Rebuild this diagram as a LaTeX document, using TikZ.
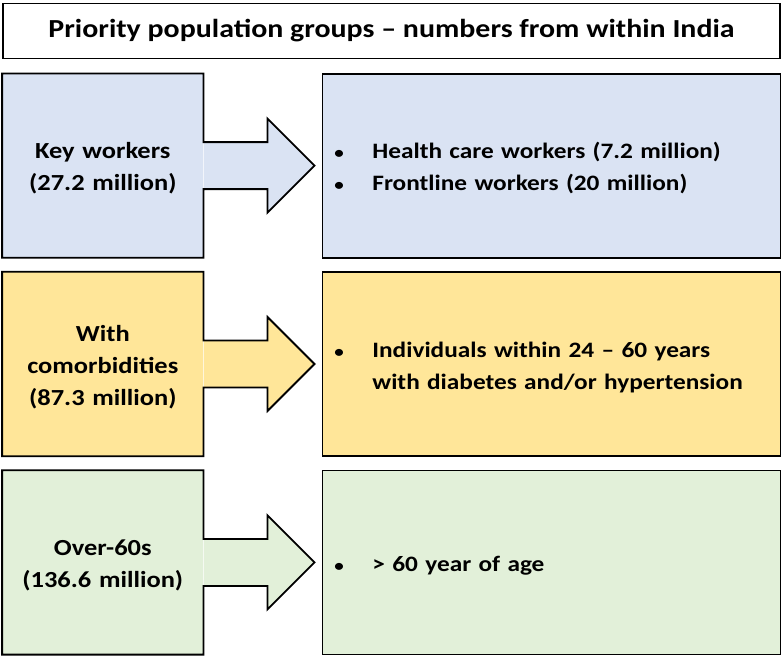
\documentclass[tikz,border=0pt]{standalone}
\usepackage{fontspec}
\setmainfont{Carlito}[FakeStretch=1.15]
\usetikzlibrary{positioning}
\definecolor{keyblue}{HTML}{DAE3F3}
\definecolor{comorbyellow}{HTML}{FFE699}
\definecolor{oldgreen}{HTML}{E2F0D9}

\begin{document}
\begin{tikzpicture}[
                x=1pt, y=-1pt,
                title/.style={draw=black, line width=1.8pt, minimum width=777pt, minimum height=55pt, font=\bfseries\fontsize{26}{30}\selectfont},
                group/.style={rectangle, minimum width=201pt, minimum height=184pt, text width=190pt, align=center, font=\bfseries\fontsize{23}{32}\selectfont, execute at begin node=\rule{0pt}{22pt}},
                detail/.style={draw=black, line width=1.8pt, rectangle, minimum width=458pt, minimum height=184pt, inner xsep=12pt, text width=434pt, align=left, font=\bfseries\fontsize{22}{32}\selectfont, execute at begin node=\rule{0pt}{22pt}},
                outline/.style={draw=black, line width=1.8pt, line join=miter}
            ]
\useasboundingbox (0,0) rectangle (784,656);

\node[title] (title) at (391.5,31) {Priority population groups -- numbers from within India};

\node[group, fill=keyblue, below right=14pt and 0pt of title.south west, anchor=north west] (key) {Key workers\\(27.2 million)};
            \node[group, fill=comorbyellow, below=14pt of key] (comorb) {With\\comorbidities\\(87.3 million)};
            \node[group, fill=oldgreen, below=14pt of comorb] (older) {Over-60s\\(136.6 million)};

\node[detail, fill=keyblue, right=118pt of key] (keylist) {\makebox[38pt][l]{\scalebox{0.75}{\textbullet}}Health care workers (7.2 million)\\\makebox[38pt][l]{\scalebox{0.75}{\textbullet}}Frontline workers (20 million)};
            \node[detail, fill=comorbyellow, right=118pt of comorb] (comorblist) {\makebox[38pt][l]{\scalebox{0.75}{\textbullet}}Individuals within 24 -- 60 years\\\hspace*{38pt}with diabetes and/or hypertension};
            \node[detail, fill=oldgreen, right=118pt of older] (olderlist) {\makebox[38pt][l]{\scalebox{0.75}{\textbullet}}> 60 year of age};

% block arrows joined to the group boxes
\foreach \g/\c in {key/keyblue, comorb/comorbyellow, older/oldgreen} {
  \fill[\c] ([yshift=23.5pt]\g.east) -- ++(64,0) -- ++(0,-23.5) -- ([xshift=111pt]\g.east) -- ++(-47,47) -- ++(0,-23.5) -- ([yshift=-23.5pt]\g.east) -- cycle;
  \draw[outline] (\g.north west) -- (\g.north east) -- ([yshift=23.5pt]\g.east) -- ++(64,0) -- ++(0,-23.5) -- ([xshift=111pt]\g.east) -- ++(-47,47) -- ++(0,-23.5) -- ([yshift=-23.5pt]\g.east) -- (\g.south east) -- (\g.south west) -- cycle;
}

\end{tikzpicture}
\end{document}
